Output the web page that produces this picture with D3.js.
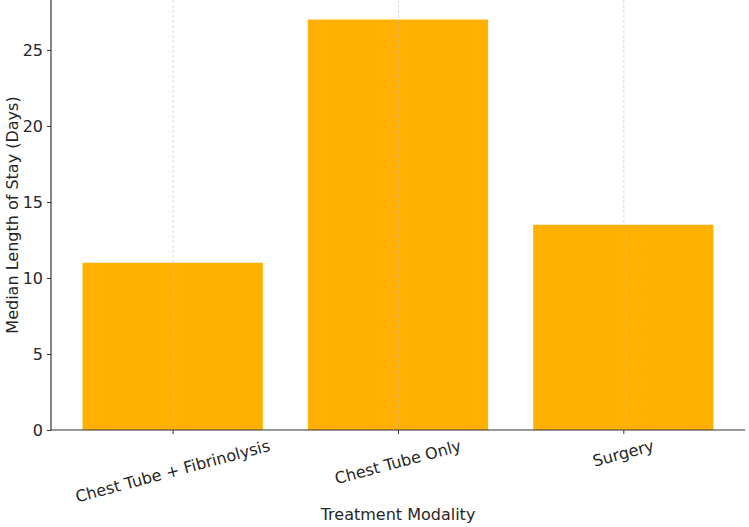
<!DOCTYPE html>
<html><head><meta charset="utf-8">
<script src="https://cdn.jsdelivr.net/npm/d3@7"></script>
<style>body{margin:0;background:#fff}svg{display:block}text{font-family:"DejaVu Sans",sans-serif;fill:#262626}</style>
</head><body>
<svg id="c" width="749" height="527"></svg>
<script>
const categories = ["Chest Tube + Fibrinolysis", "Chest Tube Only", "Surgery"];
const values = [11, 27, 13.5];
const yTicks = [0, 5, 10, 15, 20, 25];
const xLabel = "Treatment Modality";
const yLabel = "Median Length of Stay (Days)";

const svg = d3.select("#c");
const L = 51, R = 745, T = -1, B = 430;
const FS = 16;
const n = categories.length;
const x = d3.scaleLinear().domain([-0.54, n - 1 + 0.54]).range([L, R]);
const y = d3.scaleLinear().domain([0, d3.max(values) * 1.05]).range([B, T]);
const bw = x(0.4) - x(-0.4);

// bars
svg.append("g").selectAll("rect").data(values).join("rect")
  .attr("x", (d, i) => x(i) - bw / 2).attr("width", bw)
  .attr("y", d => y(d)).attr("height", d => B - y(d))
  .attr("fill", "#FFB000");

// vertical grid
svg.append("g").selectAll("line").data(categories).join("line")
  .attr("x1", (d, i) => x(i) + 0.5).attr("x2", (d, i) => x(i) + 0.5)
  .attr("y1", 0).attr("y2", B)
  .attr("stroke", "#b0b0b0").attr("stroke-opacity", 0.6)
  .attr("stroke-dasharray", "3,2").attr("stroke-width", 0.8);

// y axis
const ya = svg.append("g").attr("transform", `translate(${L},0)`)
  .call(d3.axisLeft(y).tickValues(yTicks).tickSize(4).tickPadding(4).tickFormat(d3.format("d")));
ya.select(".domain").attr("stroke", "#333").attr("stroke-width", 1.2).attr("d", `M0,0V${B}`);
ya.selectAll(".tick line").attr("stroke", "#333");
ya.selectAll(".tick text").style("font-size", FS + "px").attr("fill", "#262626");

// x axis
const xa = svg.append("g").attr("transform", `translate(0,${B})`)
  .call(d3.axisBottom(x).tickValues(d3.range(n)).tickSize(4).tickFormat(""));
xa.select(".domain").attr("stroke", "#333").attr("stroke-width", 1.2).attr("d", `M${L},0H${R}`);
xa.selectAll(".tick line").attr("stroke", "#333");

// rotated x tick labels
const ang = 15 * Math.PI / 180;
const lg = svg.append("g");
categories.forEach((c, i) => {
  const t = lg.append("text").text(c).style("font-size", FS + "px")
    .attr("text-anchor", "middle").attr("dominant-baseline", "central");
  const w = t.node().getComputedTextLength();
  const h = FS * 0.95;
  const hh = w * Math.sin(ang) + h * Math.cos(ang);
  const cy = B + 8 + hh / 2;
  t.attr("transform", `translate(${x(i)},${cy}) rotate(-15)`);
});

svg.append("text").text(xLabel).attr("x", (L + R) / 2).attr("y", 520)
  .attr("text-anchor", "middle").style("font-size", FS + "px");
svg.append("text").text(yLabel).attr("transform", `translate(18,${B / 2}) rotate(-90)`)
  .attr("text-anchor", "middle").style("font-size", FS + "px");
</script>
</body></html>
